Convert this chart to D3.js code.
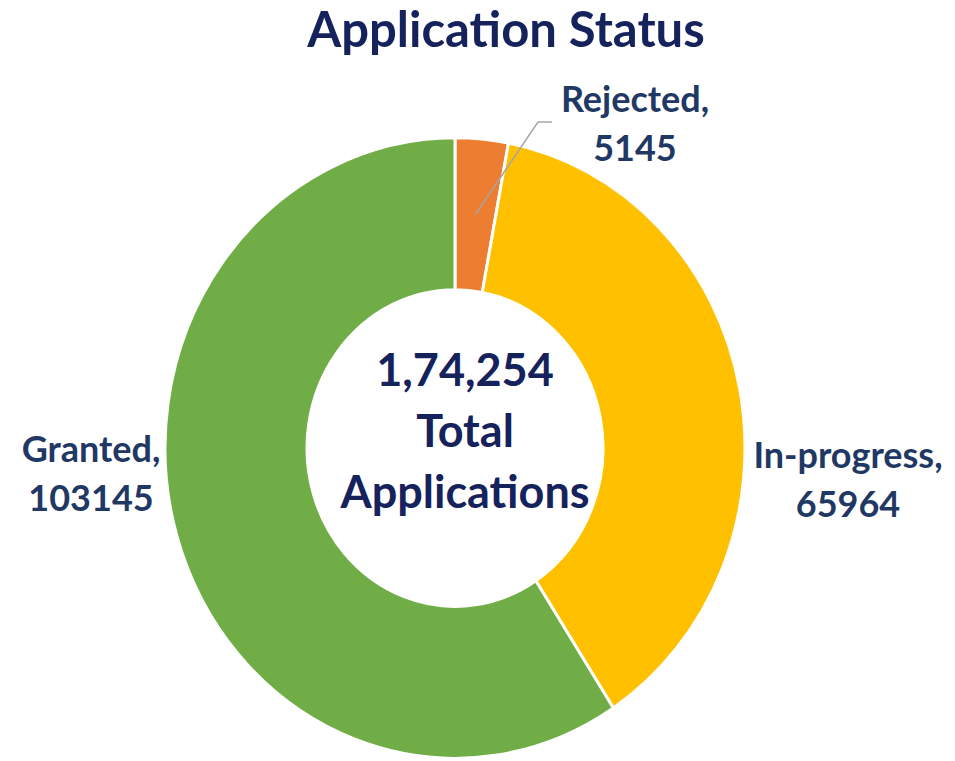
<!DOCTYPE html>
<html lang="en">
<head>
<meta charset="utf-8">
<title>Application Status</title>
<script src="https://d3js.org/d3.v7.min.js"></script>
<style>
  body { margin: 0; background: #fff; }
  text { font-family: Lato, "Open Sans", sans-serif; font-weight: bold; }
</style>
</head>
<body>
<script>
// data
const categories = ["Rejected", "In-progress", "Granted"];
const values = [5145, 65964, 103145];
const colors = ["#ed7d31", "#ffc000", "#70ad47"];

const w = 955, h = 761;
const cx = 455, cy = 448;
const outerR = 290, innerR = 148;
const sy = 1.07; // the source picture is slightly stretched vertically

const svg = d3.select("body").append("svg")
  .attr("width", w)
  .attr("height", h);

// title
svg.append("text")
  .attr("x", 506)
  .attr("y", 47)
  .attr("text-anchor", "middle")
  .attr("font-size", 49)
  .attr("fill", "#15225c")
  .text("Application Status");

const pie = d3.pie().sort(null).value(d => d.value);
const arcs = pie(categories.map((c, i) => ({ name: c, value: values[i], color: colors[i] })));

const arc = d3.arc().innerRadius(innerR).outerRadius(outerR);

const g = svg.append("g")
  .attr("transform", "translate(" + cx + "," + cy + ") scale(1," + sy + ")");

g.selectAll("path")
  .data(arcs)
  .enter()
  .append("path")
  .attr("d", arc)
  .attr("fill", d => d.data.color)
  .attr("stroke", "#fff")
  .attr("stroke-width", 3)
  .attr("vector-effect", "non-scaling-stroke");

// centre text
const total = d3.sum(values);
const centre = [total.toLocaleString("en-IN"), "Total", "Applications"];
svg.append("g").selectAll("text")
  .data(centre)
  .enter()
  .append("text")
  .attr("x", cx + 10)
  .attr("y", (d, i) => 386 + i * 61)
  .attr("text-anchor", "middle")
  .attr("font-size", 45)
  .attr("fill", "#15225c")
  .text(d => d);

// labels
const labelPos = [[635, 112], [848, 468], [91, 462]];
const lab = svg.append("g").selectAll("text")
  .data(arcs)
  .enter()
  .append("text")
  .attr("text-anchor", "middle")
  .attr("font-size", 36)
  .attr("fill", "#1f3864");
lab.append("tspan")
  .attr("x", (d, i) => labelPos[i][0])
  .attr("y", (d, i) => labelPos[i][1])
  .text(d => d.data.name + ",");
lab.append("tspan")
  .attr("x", (d, i) => labelPos[i][0])
  .attr("y", (d, i) => labelPos[i][1] + 49)
  .text(d => d.data.value);

// leader line for the small slice
const c0 = arc.centroid(arcs[0]);
svg.append("polyline")
  .attr("points", [
    [cx + c0[0], cy + c0[1] * sy],
    [538, 122],
    [552, 122]
  ].map(p => p.join(",")).join(" "))
  .attr("fill", "none")
  .attr("stroke", "#a6a6a6")
  .attr("stroke-width", 1.5);
</script>
</body>
</html>
